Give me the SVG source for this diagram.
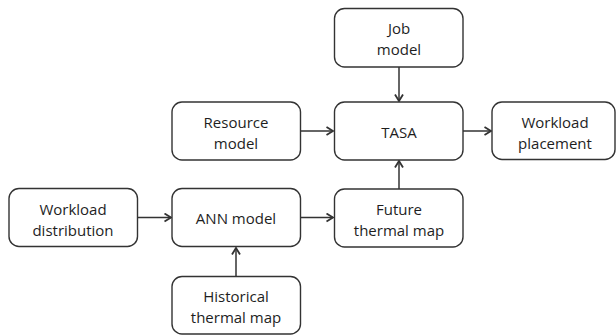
<svg xmlns="http://www.w3.org/2000/svg" width="616" height="335" viewBox="0 0 616 335">
<style>
.box{fill:#fff;stroke:#333;stroke-width:1.4}
.t{font-family:"Open Sans","Liberation Sans",sans-serif;font-size:15px;fill:#1e1e1e;text-anchor:middle}
.c{stroke:#333;stroke-width:1.5;fill:none}
</style>
<defs>
<marker id="ah" markerUnits="userSpaceOnUse" markerWidth="12" markerHeight="12" viewBox="0 0 12 12" refX="8" refY="5" orient="auto">
<path d="M1.5,1 L8,5 L1.5,9" fill="none" stroke="#333" stroke-width="1.8"/>
</marker>
</defs>
<rect width="616" height="335" fill="#fff"/>
<g id="connectors">
<line class="c" x1="399" y1="67" x2="399" y2="101" marker-end="url(#ah)"/>
<line class="c" x1="300" y1="131" x2="333" y2="131" marker-end="url(#ah)"/>
<line class="c" x1="463" y1="131" x2="491" y2="131" marker-end="url(#ah)"/>
<line class="c" x1="399" y1="189" x2="399" y2="161" marker-end="url(#ah)"/>
<line class="c" x1="137" y1="217.5" x2="171" y2="217.5" marker-end="url(#ah)"/>
<line class="c" x1="300" y1="217.5" x2="333" y2="217.5" marker-end="url(#ah)"/>
<line class="c" x1="236" y1="276" x2="236" y2="248" marker-end="url(#ah)"/>
</g>
<g id="job">
<rect class="box" x="334.5" y="8.5" width="128.5" height="58.5" rx="10"/>
<text class="t" x="399" y="34">Job</text>
<text class="t" x="399" y="55">model</text>
</g>
<g id="resource">
<rect class="box" x="172" y="102" width="128.5" height="58" rx="10"/>
<text class="t" x="236" y="128">Resource</text>
<text class="t" x="236" y="149">model</text>
</g>
<g id="tasa">
<rect class="box" x="334.5" y="102" width="128.5" height="58" rx="10"/>
<text class="t" x="399" y="137.5">TASA</text>
</g>
<g id="placement">
<rect class="box" x="492" y="102" width="123" height="57.5" rx="10"/>
<text class="t" x="555" y="128">Workload</text>
<text class="t" x="555" y="149">placement</text>
</g>
<g id="distribution">
<rect class="box" x="9" y="188.5" width="128.5" height="58" rx="10"/>
<text class="t" x="73" y="214.5">Workload</text>
<text class="t" x="73" y="235.5">distribution</text>
</g>
<g id="ann">
<rect class="box" x="172" y="188.5" width="128.5" height="58" rx="10"/>
<text class="t" x="236" y="224">ANN model</text>
</g>
<g id="future">
<rect class="box" x="334.5" y="189" width="128.5" height="58" rx="10"/>
<text class="t" x="399" y="214.5">Future</text>
<text class="t" x="399" y="235.5">thermal map</text>
</g>
<g id="historical">
<rect class="box" x="172" y="276.5" width="128.5" height="57.5" rx="10"/>
<text class="t" x="236" y="302">Historical</text>
<text class="t" x="236" y="323">thermal map</text>
</g>
</svg>
